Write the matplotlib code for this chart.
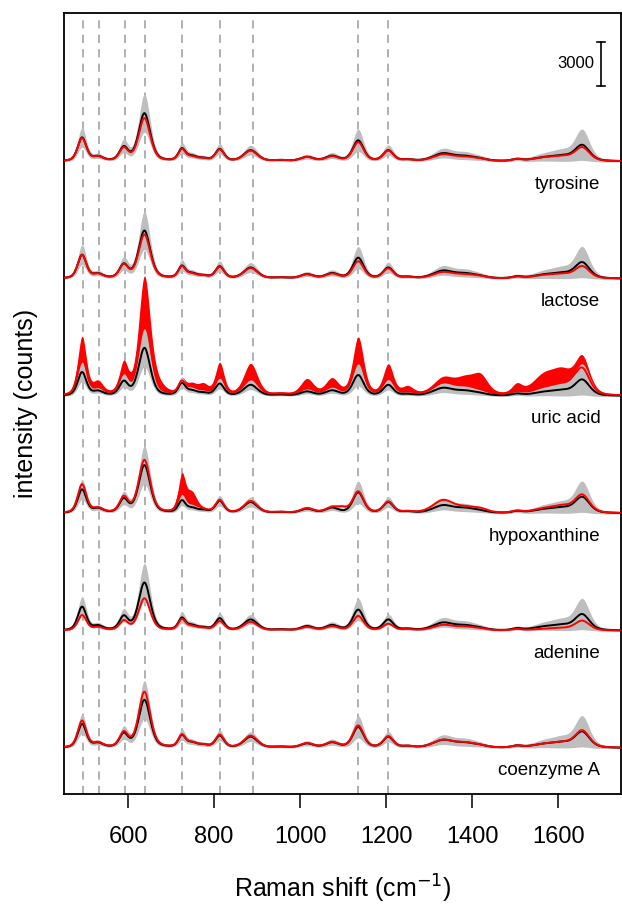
import numpy as np
import matplotlib
matplotlib.use("Agg")
import matplotlib.pyplot as plt

plt.rcParams['font.family'] = ['Liberation Sans', 'DejaVu Sans']

# band positions (cm-1) and half widths used to build each spectrum
centers = [493, 530, 590, 638, 665, 725, 748, 775, 813, 885, 955, 1016, 1074,
           1098, 1135, 1205, 1250, 1332, 1385, 1420, 1504, 1565, 1610, 1656]
widths = [12, 14, 12, 16, 20, 10, 14, 14, 12, 19, 20, 18, 18,
          14, 15, 14, 16, 28, 30, 20, 14, 32, 30, 20]

# reference mean and sd (counts), same in every panel
ref_mean = [1600, 280, 900, 3250, 0, 780, 300, 160, 800, 740, 60, 280, 340,
            0, 1400, 720, 90, 500, 300, 80, 120, 200, 300, 1050]
ref_sd = [620, 100, 360, 1250, 0, 300, 100, 60, 300, 280, 30, 110, 140,
          0, 700, 290, 40, 250, 190, 40, 50, 150, 280, 950]

# spiked sample means (counts)
tyrosine_red = [1560, 270, 840, 2920, 0, 750, 260, 150, 770, 700, 60, 270, 310,
                0, 1280, 690, 90, 430, 260, 80, 120, 190, 270, 900]
lactose_red = [1600, 270, 880, 2980, 0, 750, 280, 150, 770, 700, 60, 270, 310,
               0, 1160, 670, 90, 410, 250, 80, 110, 180, 240, 800]
uric_lo = ref_mean
uric_hi = [3900, 800, 2000, 7800, 550, 900, 620, 620, 2100, 2100, 120, 1050, 1050,
           0, 3850, 2000, 500, 1050, 1050, 1000, 600, 1150, 1400, 2350]
hypox_lo = [1950, 300, 1030, 3600, 0, 800, 310, 160, 860, 810, 60, 320, 350,
            260, 1450, 760, 90, 850, 340, 200, 120, 230, 420, 1180]
hypox_hi = [1950, 300, 1030, 3600, 0, 2400, 1250, 160, 860, 810, 60, 320, 350,
            260, 1450, 760, 90, 850, 340, 200, 120, 230, 420, 1180]
adenine_red = [1040, 200, 620, 2180, 0, 710, 260, 140, 620, 580, 50, 230, 270,
               0, 980, 440, 70, 350, 230, 70, 90, 90, 130, 650]
coa_red = [1830, 300, 980, 3800, 0, 810, 310, 160, 860, 810, 60, 300, 360,
           0, 1500, 760, 90, 500, 310, 80, 120, 200, 300, 1130]

names = ["coenzyme A", "adenine", "hypoxanthine", "uric acid", "lactose", "tyrosine"]
red_lo = [coa_red, adenine_red, hypox_lo, uric_lo, lactose_red, tyrosine_red]
red_hi = [coa_red, adenine_red, hypox_hi, uric_hi, lactose_red, tyrosine_red]
offset = 8000

marks = [495, 532, 593, 639, 725, 814, 890, 1135, 1205]

x = np.arange(451, 1746, 1.0)


def spectrum(heights):
    y = np.zeros_like(x)
    for c, w, h in zip(centers, widths, heights):
        g = np.exp(-np.log(2) * ((x - c) / w) ** 2)
        l = 1 / (1 + ((x - c) / w) ** 2)
        y += h * (0.4 * l + 0.6 * g)
    return y


fig = plt.figure(figsize=(6.22, 9.05), dpi=100)
ax = fig.add_axes([64 / 622, 1 - 794 / 905, (621 - 64) / 622, (794 - 13) / 905])

for v in marks:
    ax.axvline(v, color='#AAAAAA', ls=(0, (4.5, 3.5)), lw=1.3, zorder=0.5)

m = spectrum(ref_mean)
s = spectrum(ref_sd) + 40
for i, name in enumerate(names):
    off = i * offset
    lo = spectrum(red_lo[i])
    hi = spectrum(red_hi[i])
    pad = 0.03 * lo + 30
    ax.fill_between(x, off + lo - pad, off + hi + pad, color='red', lw=0, zorder=1)
    ax.fill_between(x, off + m - s, off + m + s, color='#BEBEBE', lw=0, zorder=2)
    ax.plot(x, off + m, color='black', lw=1.4, zorder=3)
    ax.plot(x, off + (lo + hi) / 2, color='red', lw=1.4, zorder=4)
    ax.text(1698, off - 1550, name, ha='right', va='center', fontsize=13.5)

# scale bar
ax.plot([1700, 1700], [45150, 48150], color='black', lw=1.2)
ax.plot([1691, 1709], [45150, 45150], color='black', lw=1.2)
ax.plot([1691, 1709], [48150, 48150], color='black', lw=1.2)
ax.text(1683, 46650, "3000", ha='right', va='center', fontsize=12)

ax.set_xlim(451, 1746)
ax.set_ylim(-3137, 50120)
ax.set_xticks([600, 800, 1000, 1200, 1400, 1600])
ax.tick_params(axis='x', length=10, width=1.1, labelsize=17, pad=13)
ax.set_yticks([])
for sp in ax.spines.values():
    sp.set_linewidth(1.3)
ax.set_xlabel("Raman shift (cm$^{-1}$)", fontsize=18, labelpad=18)
ax.set_ylabel("intensity (counts)", fontsize=18, labelpad=19)

fig.savefig("out.png", dpi=100)
